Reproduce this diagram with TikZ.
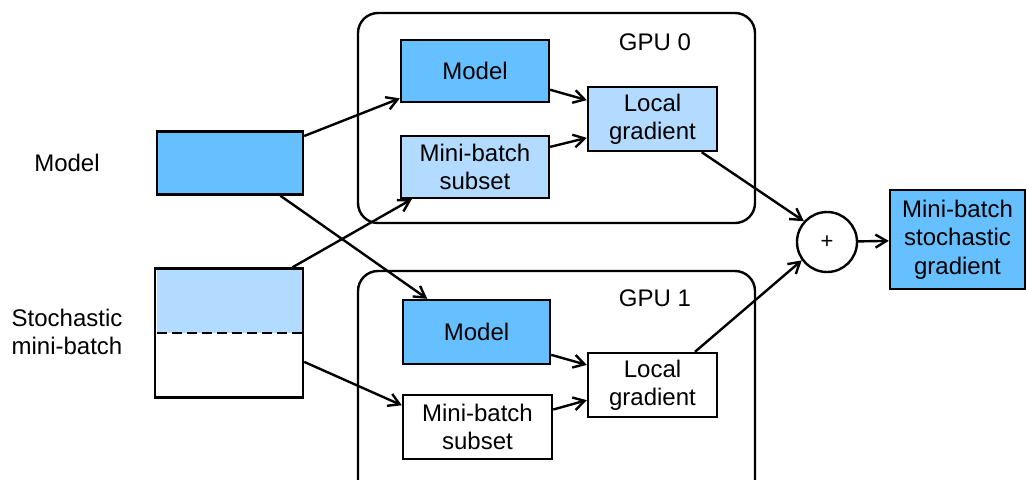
\documentclass[tikz,border=0pt]{standalone}
\usepackage{fontspec}
\setmainfont{Liberation Sans}
\usetikzlibrary{arrows.meta}
\definecolor{Deep}{HTML}{66BFFF}
\definecolor{Light}{HTML}{B3DAFF}

\begin{document}
\begin{tikzpicture}[x=0.5pt,y=-0.5pt,>={Straight Barb[length=5.5pt,width=6.5pt]},
  font=\fontsize{12}{14.2}\selectfont,
  box/.style={draw,line width=1.2pt,inner sep=0pt,align=center}]

\useasboundingbox (0,0) rectangle (1028,479);

% gpu frames
\draw[line width=1.2pt,rounded corners=10pt] (358,13) rectangle (755,223);
\draw[line width=1.2pt,rounded corners=10pt] (358,271) rectangle (755,520);

\node at (655,42) {GPU 0};
\node at (655,298) {GPU 1};

\node[align=center] at (67,163) {Model};
\node[align=center] at (67,332) {Stochastic\\mini-batch};

\node[box,fill=Deep,minimum width=73pt,minimum height=31.5pt] (model) at (230,163) {};

\fill[Light] (157,270) rectangle (302,333);
\draw[line width=1.2pt,dash pattern=on 5pt off 2.5pt] (157,333) -- (302,333);
\node[box,minimum width=74pt,minimum height=64.5pt] (batch) at (229,333) {};

\node[box,fill=Deep,minimum width=74pt,minimum height=31pt] (m0) at (475,71) {Model};
\node[box,fill=Light,minimum width=74pt,minimum height=31pt] (s0) at (475,167) {Mini-batch\\subset};
\node[box,fill=Light,minimum width=64.5pt,minimum height=32pt] (g0) at (652.5,119) {Local\\gradient};

\node[box,fill=Deep,minimum width=73.5pt,minimum height=32pt] (m1) at (476.5,332) {Model};
\node[box,fill=white,minimum width=74.5pt,minimum height=32pt] (s1) at (477.5,427) {Mini-batch\\subset};
\node[box,fill=white,minimum width=64.5pt,minimum height=32pt] (g1) at (652.5,385) {Local\\gradient};

\node[box,circle,minimum size=30pt,font=\fontsize{11}{13}\selectfont] (sum) at (827,242) {+};
\node[box,fill=Deep,minimum width=67.5pt,minimum height=49.5pt] (out) at (957.5,239.5) {Mini-batch\\stochastic\\gradient};

\draw[->,line width=1.2pt] (model.20) -- (m0.200);
\draw[->,line width=1.2pt] (model.-33) -- (m1.146);
\draw[->,line width=1.2pt] (batch.46) -- (s0.207);
\draw[->,line width=1.2pt] (batch.-21) -- (s1.164);

\draw[->,line width=1.2pt] (m0.-14) -- (g0.164);
\draw[->,line width=1.2pt] (s0.15) -- (g0.196);
\draw[->,line width=1.2pt] (m1.-17) -- (g1.163);
\draw[->,line width=1.2pt] (s1.13) -- (g1.193);

\draw[->,line width=1.2pt] (g0.-34) -- (sum.138);
\draw[->,line width=1.2pt] (g1.38) -- (sum.216);
\draw[->,line width=1.2pt] (sum) -- (out);

\end{tikzpicture}
\end{document}
